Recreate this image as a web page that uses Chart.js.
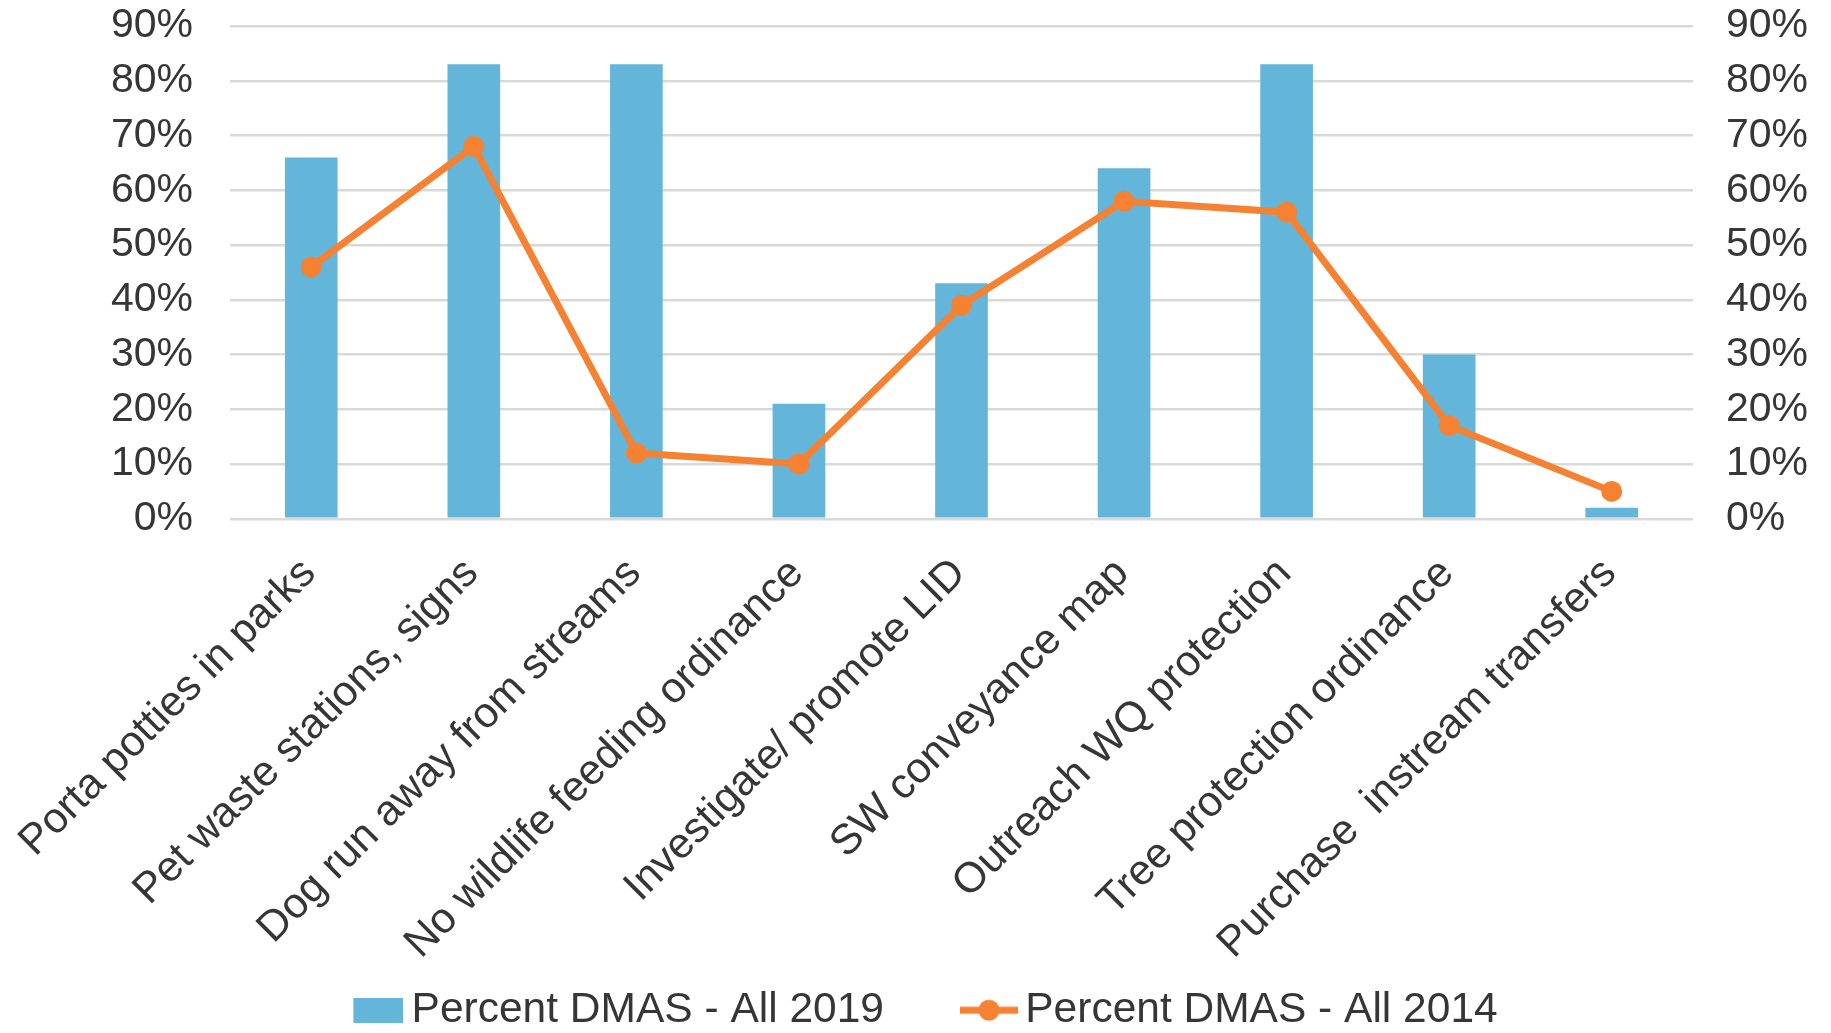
<!DOCTYPE html>
<html>
<head>
<meta charset="utf-8">
<script src="https://cdn.jsdelivr.net/npm/chart.js@4.4.1/dist/chart.umd.min.js"></script>
<style>
  html, body { margin: 0; padding: 0; background: #fff; }
  #wrap { width: 1831px; height: 1033px; }
</style>
</head>
<body>
<div id="wrap"><canvas id="chart" width="1831" height="1033"></canvas></div>
<script>
// --- data ---
const categories = [
    'Porta potties in parks',
    'Pet waste stations, signs',
    'Dog run away from streams',
    'No wildlife feeding ordinance',
    'Investigate/ promote LID',
    'SW conveyance map',
    'Outreach WQ protection',
    'Tree protection ordinance',
    'Purchase  instream transfers'
];
const pct2019 = [66, 83, 83, 21, 43, 64, 83, 30, 2];
const pct2014 = [46, 68, 12, 10, 39, 58, 56, 17, 5];
const tickValues = [0, 10, 20, 30, 40, 50, 60, 70, 80, 90];

const BLUE = '#63b5da';
const ORANGE = '#f58233';
const TEXT = '#363636';
const GRID = '#d9d9d9';
const FAMILY = "'Liberation Sans', Arial, sans-serif";
const TICK_FONT = { family: FAMILY, size: 41 };
const LABEL_FONT = { family: FAMILY, size: 42.5 };

// legend swatches (point-style images, mark sits at the right end)
const SWATCH_W = 57;
function makeSwatch(w, h, draw) {
    const c = document.createElement('canvas');
    c.width = w; c.height = h;
    draw(c.getContext('2d'), w, h);
    return c;
}
const barSwatch = makeSwatch(SWATCH_W + 26, 25, (g, w, h) => {
    g.fillStyle = BLUE;
    g.fillRect(w - 50, 0, 50, h);
});
const lineSwatch = makeSwatch(SWATCH_W + 28, 24, (g, w, h) => {
    g.strokeStyle = ORANGE;
    g.lineWidth = 7;
    g.beginPath(); g.moveTo(w - 58, h / 2); g.lineTo(w, h / 2); g.stroke();
    g.fillStyle = ORANGE;
    g.beginPath(); g.arc(w - 29, h / 2, 10.5, 0, Math.PI * 2); g.fill();
});

// percent axes, same on both sides
function pctAxis(position, width, pad, showGrid) {
    return {
        position: position,
        min: 0, max: 90,
        grid: showGrid ? { color: GRID, lineWidth: 2.5, drawTicks: false } : { display: false, drawTicks: false },
        border: { display: false },
        ticks: {
            color: TEXT,
            font: TICK_FONT,
            autoSkip: false,
            padding: pad,
            callback: v => v + '%'
        },
        afterBuildTicks: s => { s.ticks = tickValues.map(v => ({ value: v })); },
        afterFit: s => {
            s.width = width;
            s.paddingTop = 0;
            s.paddingBottom = 0;
        }
    };
}

// rotated category labels run past the axis box; let them draw down to the legend text
const labelRoom = {
    id: 'labelRoom',
    afterLayout: chart => { chart.scales.x.bottom = chart.height; }
};

new Chart(document.getElementById('chart').getContext('2d'), {
    data: {
        labels: categories,
        datasets: [
            {
                type: 'line',
                label: 'Percent DMAS - All 2014',
                data: pct2014,
                yAxisID: 'y',
                borderColor: ORANGE,
                backgroundColor: ORANGE,
                borderWidth: 7,
                pointRadius: 10.5,
                pointBorderWidth: 0,
                pointBackgroundColor: ORANGE,
                tension: 0,
                order: 1
            },
            {
                type: 'bar',
                label: 'Percent DMAS - All 2019',
                data: pct2019,
                yAxisID: 'y',
                backgroundColor: BLUE,
                categoryPercentage: 1,
                barPercentage: 0.324,
                order: 2
            }
        ]
    },
    plugins: [labelRoom],
    options: {
        responsive: false,
        animation: false,
        layout: { padding: { top: 26, left: 0, right: 0, bottom: 0 } },
        scales: {
            x: {
                grid: { display: false, drawTicks: false },
                border: { display: false },
                ticks: {
                    color: TEXT,
                    font: LABEL_FONT,
                    maxRotation: 45,
                    minRotation: 45,
                    autoSkip: false,
                    padding: 30,
                    labelOffset: -2
                },
                afterFit: s => {
                    s.height = 407.25;
                    s.paddingLeft = 0;
                    s.paddingRight = 0;
                }
            },
            y: pctAxis('left', 230, 37, true),
            y2: pctAxis('right', 138, 33, false)
        },
        plugins: {
            tooltip: { enabled: false },
            legend: {
                position: 'bottom',
                maxHeight: 107,
                labels: {
                    color: TEXT,
                    font: LABEL_FONT,
                    usePointStyle: true,
                    pointStyleWidth: SWATCH_W,
                    padding: 63,
                    generateLabels: () => [
                        { text: 'Percent DMAS - All 2019', pointStyle: barSwatch, fontColor: TEXT, datasetIndex: 1, lineWidth: 0 },
                        { text: 'Percent DMAS - All 2014', pointStyle: lineSwatch, fontColor: TEXT, datasetIndex: 0, lineWidth: 0 }
                    ]
                }
            }
        }
    }
});
</script>
</body>
</html>
